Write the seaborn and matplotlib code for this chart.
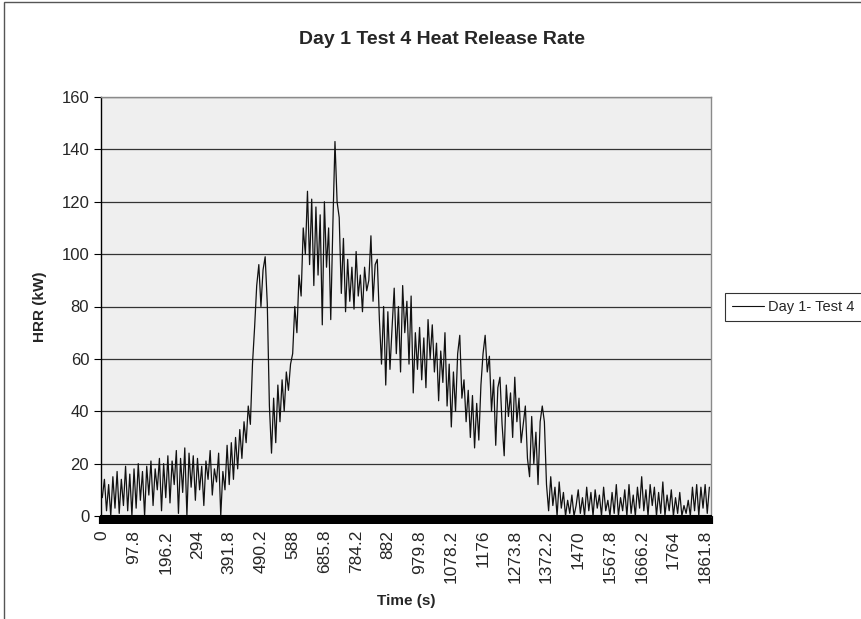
import numpy as np
import pandas as pd
import matplotlib
matplotlib.use("Agg")
import matplotlib.pyplot as plt
import seaborn as sns
from matplotlib.patches import Rectangle

sample_step = 6.533
hrr = [
    7, 14, 2, 12, 0, 15, 3, 17, 1, 14, 4, 19, 2, 16, 0,
    18, 3, 20, 6, 17, 0, 19, 8, 21, 4, 18, 10, 22, 2, 20,
    7, 23, 5, 21, 12, 25, 1, 22, 9, 26, 0, 24, 11, 23, 6,
    22, 10, 19, 4, 21, 14, 25, 8, 18, 13, 24, 0, 17, 10, 27,
    12, 28, 14, 30, 18, 33, 22, 36, 28, 42, 35, 58, 72, 88, 96,
    80, 94, 99, 81, 42, 24, 45, 28, 50, 36, 52, 40, 55, 48, 58,
    62, 80, 70, 92, 84, 110, 100, 124, 96, 121, 88, 118, 92, 115, 73,
    120, 95, 110, 75, 111, 143, 120, 114, 85, 106, 78, 98, 82, 95, 79,
    101, 84, 92, 78, 95, 86, 90, 107, 82, 96, 98, 75, 58, 80, 50,
    78, 56, 72, 87, 62, 80, 55, 88, 70, 82, 58, 84, 47, 70, 56,
    72, 52, 68, 49, 75, 60, 73, 55, 66, 44, 63, 51, 70, 42, 58,
    34, 55, 40, 62, 69, 45, 52, 36, 48, 30, 46, 26, 43, 29, 50,
    62, 69, 55, 61, 40, 52, 27, 49, 53, 35, 23, 50, 38, 47, 30,
    53, 36, 45, 28, 35, 42, 22, 15, 38, 20, 32, 12, 36, 42, 36,
    12, 2, 15, 4, 11, 0, 13, 3, 9, 0, 6, 1, 8, 0, 4,
    10, 1, 7, 0, 11, 2, 9, 0, 10, 3, 8, 0, 11, 2, 6,
    0, 9, 1, 12, 0, 7, 2, 10, 0, 12, 1, 8, 0, 11, 3,
    15, 2, 10, 0, 12, 4, 11, 0, 9, 1, 13, 0, 8, 2, 10,
    0, 7, 1, 9, 0, 4, 1, 6, 0, 11, 2, 12, 0, 11, 3,
    12, 1, 11,
]
time_s = np.arange(len(hrr)) * sample_step

x_tick_labels = ["0", "97.8", "196.2", "294", "391.8", "490.2", "588", "685.8",
                 "784.2", "882", "979.8", "1078.2", "1176", "1273.8", "1372.2",
                 "1470", "1567.8", "1666.2", "1764", "1861.8"]
y_ticks = [0, 20, 40, 60, 80, 100, 120, 140, 160]
series_name = "Day 1- Test 4"

df = pd.DataFrame({"Time (s)": time_s, "HRR (kW)": hrr, "series": series_name})

# ---- style ----
sns.set_style("white")
plt.rcParams["font.family"] = ["Liberation Sans", "DejaVu Sans"]

fig = plt.figure(figsize=(8.61, 6.19), dpi=100)
ax = fig.add_axes([101 / 861, 1 - 516 / 619, (711 - 101) / 861, (516 - 97) / 619])
ax.set_facecolor("#efefef")

sns.lineplot(data=df, x="Time (s)", y="HRR (kW)", hue="series",
             palette=["#111111"], linewidth=0.9, ax=ax, legend=True)

ax.set_ylim(0, 160)
ax.set_xlim(-4, 1880)
ax.set_yticks(y_ticks)
ax.set_yticklabels([str(v) for v in y_ticks], fontsize=12)
ax.yaxis.grid(True, color="#333333", linewidth=0.9)
ax.set_axisbelow(True)

tick_pos = [float(s) for s in x_tick_labels]
ax.set_xticks(tick_pos)
ax.set_xticklabels(x_tick_labels, rotation=90, fontsize=12.5)
ax.set_xticks(np.linspace(-4, 1880, 400), minor=True)
ax.tick_params(axis="x", which="major", length=0, pad=10, bottom=True)
ax.tick_params(axis="x", which="minor", length=6, width=3.0, color="black",
               direction="out", bottom=True)
ax.tick_params(axis="y", which="major", length=5, width=0.8, color="black",
               direction="out", left=True)

for side in ["top", "right"]:
    ax.spines[side].set_color("#8a8a8a")
    ax.spines[side].set_linewidth(1.0)
ax.spines["left"].set_color("black")
ax.spines["left"].set_linewidth(1.0)
ax.spines["bottom"].set_color("black")
ax.spines["bottom"].set_linewidth(1.5)

ax.set_xlabel("Time (s)", fontsize=11, fontweight="bold", labelpad=8)
ax.set_ylabel("HRR (kW)", fontsize=11, fontweight="bold", labelpad=10)
fig.text(442 / 861, 1 - 40 / 619, "Day 1 Test 4 Heat Release Rate",
         ha="center", va="center", fontsize=14, fontweight="bold")

leg = ax.legend(loc="center left", bbox_to_anchor=(725 / 861, 1 - 307 / 619),
                bbox_transform=fig.transFigure, frameon=True, fancybox=False,
                fontsize=10.5, handlelength=2.2, borderpad=0.5, handletextpad=0.25,
                borderaxespad=0)
leg.get_frame().set_edgecolor("black")
leg.get_frame().set_linewidth(0.8)
for line in leg.get_lines():
    line.set_linewidth(0.8)

# outer chart-area border (left and top edges visible)
fig.patches.append(Rectangle((4 / 861, -0.05), 1.2, 1 - 2 / 619 + 0.05,
                             transform=fig.transFigure, fill=False,
                             edgecolor="#555555", linewidth=1.0))

fig.savefig("out.png", dpi=100)
